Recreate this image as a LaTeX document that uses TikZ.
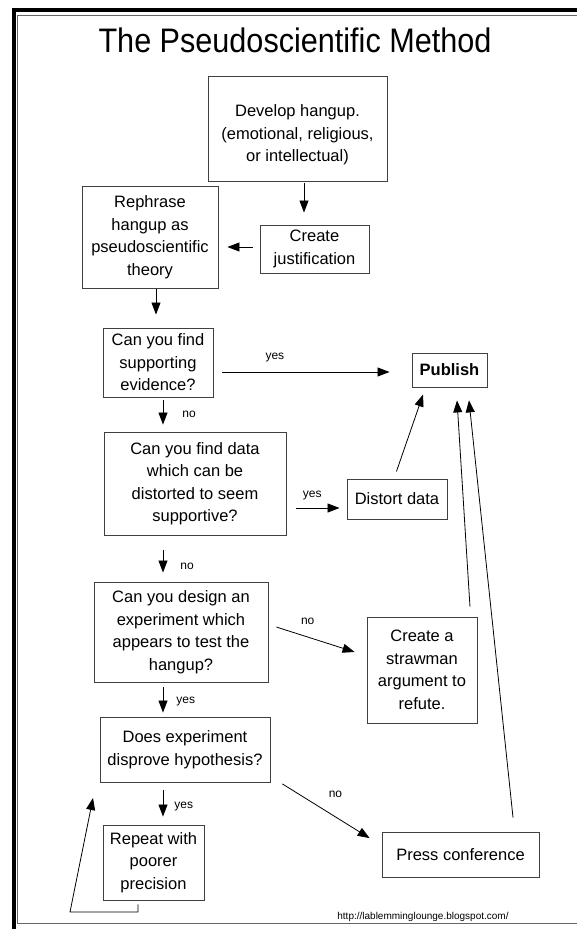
\documentclass[tikz,border=0pt]{standalone}
\usepackage{fontspec}
\setmainfont{Liberation Sans}
\usetikzlibrary{arrows.meta, positioning, calc}

\begin{document}
\begin{tikzpicture}[
    x=1pt, y=-1pt,
    flow/.style={rectangle, draw=black!75, line width=0.9pt, align=center, inner sep=0pt, font=\fontsize{16.5}{22.5}\selectfont},
    arrow/.style={line width=0.8pt, -{Triangle[length=12pt, width=9pt]}},
    lbl/.style={inner sep=1pt, font=\fontsize{12}{14}\selectfont},
    rim/.style={black!60, line width=1pt}
]%
% page and frame
\useasboundingbox (0,0) rectangle (577,929);
\fill[black] (12,8) rectangle (577,12);
\fill[black] (12,8) rectangle (15.5,929);
\draw[rim] (577,15.5) -- (17.5,15.5) -- (17.5,923) -- (577,923);
%
% title
\node[anchor=base, font=\fontsize{34}{40}\selectfont] (title) at (295,52) {\scalebox{0.9}[1]{The Pseudoscientific Method}};
%
% === boxes ===
\node[flow, minimum width=179pt, minimum height=105pt] (develop) at (297.5,128.5) {\raisebox{-6pt}[\height][\depth]{\begin{tabular}{@{}c@{}}Develop hangup.\\(emotional, religious,\\or intellectual)\end{tabular}}};
\node[flow, minimum width=109pt, minimum height=48pt] (justify) at (314.5,249) {Create\\justification};
\node[flow, minimum width=136pt, minimum height=102pt] (rephrase) at (150,237) {Rephrase\\hangup as\\pseudoscientific\\theory};
\node[flow, minimum width=110pt, minimum height=69pt] (evidence) at (158,362.5) {Can you find\\supporting\\evidence?};
\node[flow, minimum width=182pt, minimum height=103pt] (distortq) at (195,483.5) {Can you find data\\which can be\\distorted to seem\\supportive?};
\node[flow, minimum width=174pt, minimum height=100pt] (design) at (181,632) {Can you design an\\experiment which\\appears to test the\\hangup?};
\node[flow, minimum width=170pt, minimum height=65pt] (disprove) at (185,749.5) {Does experiment\\disprove hypothesis?};
\node[flow, minimum width=101pt, minimum height=75pt] (repeat) at (153.5,862.5) {Repeat with\\poorer\\precision};
%
\node[flow, minimum width=75pt, minimum height=34pt, font=\fontsize{16.5}{22.5}\selectfont\bfseries] (publish) at (449.5,370) {Publish};
\node[flow, minimum width=100pt, minimum height=40pt] (distort) at (397,499) {Distort data};
\node[flow, minimum width=110pt, minimum height=106pt] (strawman) at (422,670) {Create a\\strawman\\argument to\\refute.};
\node[flow, minimum width=157pt, minimum height=45pt] (press) at (460.5,854.5) {Press conference};
%
% === connectors ===
\draw[arrow, shorten <=2pt, shorten >=12pt] ([xshift=6.5pt]develop.south) -- ([xshift=6.5pt]develop.south |- justify.north);
\draw[arrow, shorten <=7pt, shorten >=9pt] ([yshift=2pt]justify.west) -- ([yshift=2pt]justify.west -| rephrase.east);
\draw[arrow, shorten <=1pt, shorten >=13pt] ([xshift=6pt]rephrase.south) -- ([xshift=6pt]rephrase.south |- evidence.north);
%
\draw[arrow, shorten <=9pt, shorten >=22pt] ([yshift=-9.5pt]evidence.east) -- node[lbl, pos=0.31, above=9pt] {yes} ([yshift=-9.5pt]evidence.east -| publish.west);
\draw[arrow, shorten <=3pt, shorten >=7pt] ([xshift=5pt]evidence.south) -- node[lbl, pos=0.5, right=18pt] {no} ([xshift=5pt]evidence.south |- distortq.north);
%
\draw[arrow, shorten <=10pt, shorten >=7pt] ([yshift=-24.5pt]distortq.east) -- node[lbl, pos=0.43, above=7pt] {yes} ([yshift=-24.5pt]distortq.east -| distort.west);
\draw[arrow, shorten <=7.5pt, shorten >=7.5pt] ([xshift=-3pt]distort.north) -- ([xshift=-24pt]publish.south);
\draw[arrow, shorten <=15pt, shorten >=9pt] ([xshift=-32pt]distortq.south) -- node[lbl, pos=0.68, right=16pt] {no} ([xshift=-32pt]distortq.south |- design.north);
%
\draw[arrow, shorten <=8.4pt, shorten >=12.6pt] ([yshift=7.5pt]design.east) -- node[lbl, pos=0.40, above=11pt] {no} ([yshift=14.2pt]strawman.west);
\draw[arrow, shorten <=5pt, shorten >=4pt] ([xshift=-18pt]design.south) -- node[lbl, pos=0.57, right=12pt] {yes} ([xshift=-18pt]design.south |- disprove.north);
\draw[arrow, shorten <=10pt, shorten >=13pt] ([xshift=48.6pt]strawman.north) -- ([xshift=6.7pt]publish.south);
%
\draw[arrow, shorten <=14pt, shorten >=14pt] ([yshift=-27pt]disprove.east) -- node[lbl, pos=0.585, above=18pt] {no} ([yshift=9pt]press.west);
\draw[arrow, shorten <=8pt, shorten >=8pt] ([xshift=-22pt]disprove.south) -- node[lbl, pos=0.58, right=10pt] {yes} ([xshift=-22pt]disprove.south |- repeat.north);
\draw[arrow, shorten <=14pt, shorten >=13pt] ([xshift=54pt]press.north) -- ([xshift=18.1pt]publish.south);
%
% loop back to the experiment
\coordinate (loopcorner) at (70,912);
\coordinate (looptip) at (93,798);
\draw[arrow] ([xshift=-15.5pt, yshift=-4pt]repeat.south) |- (loopcorner) -- (looptip);
%
% source
\node[font=\fontsize{10}{12}\selectfont] (source) at (423,917) {http://lablemminglounge.blogspot.com/};
\end{tikzpicture}
\end{document}
